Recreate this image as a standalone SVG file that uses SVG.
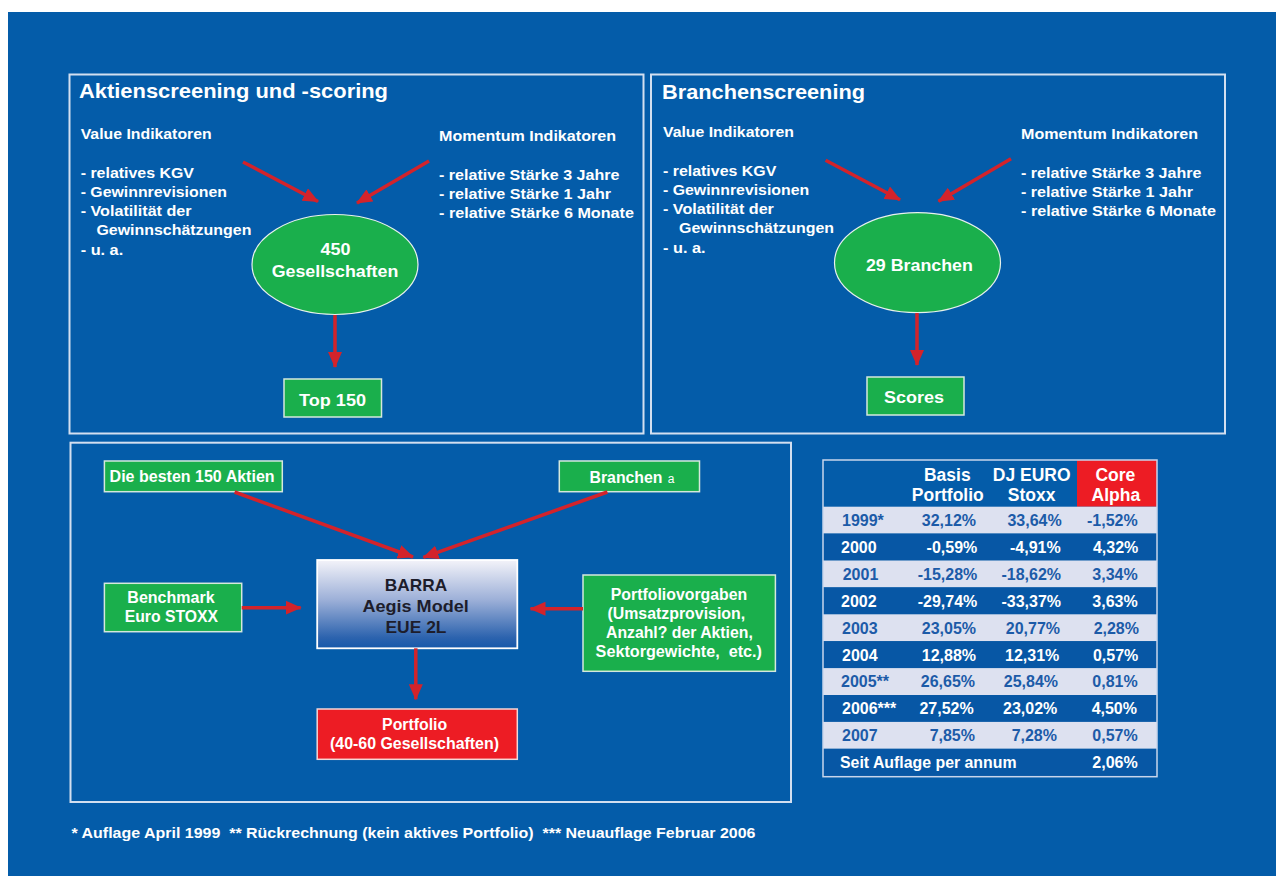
<svg xmlns="http://www.w3.org/2000/svg" width="1276" height="876" viewBox="0 0 1276 876">
<style>
.t{font-family:"Liberation Sans",Arial,Helvetica,sans-serif;font-weight:bold;fill:#ffffff}
.h1{font-size:21px}
.h2{font-size:15.5px}
.l{font-size:15.5px}
.n{font-size:17px}
.b{font-size:16px}
.c{text-anchor:middle}
.e{text-anchor:end}
.dk{fill:#1d1d2b}
.panel{fill:none;stroke:#d3dff0;stroke-width:2}
.gbox{fill:#1aaf4c;stroke:#d5e8dc;stroke-width:1.5}
.rbox{fill:#ed1c24;stroke:#f3d6d6;stroke-width:1.5}
.ell{fill:#1aaf4c;stroke:#e8f2ec;stroke-width:1.2}
.arr{stroke:#d3232b;stroke-width:3.5;fill:none;marker-end:url(#ah)}
.lr{fill:#dde1f0}
.dr{fill:#0757a5}
.tb{font-size:16px;fill:#1c5ba8}
.tw{font-size:16px;fill:#ffffff}
</style>
<defs>
<marker id="ah" viewBox="0 0 16 14" refX="15" refY="7" markerWidth="16" markerHeight="14" markerUnits="userSpaceOnUse" orient="auto">
<path d="M0,0 L16,7 L0,14 z" fill="#d3232b"/>
</marker>
<linearGradient id="barra" x1="0" y1="0" x2="0" y2="1">
<stop offset="0" stop-color="#f3f3f9"/>
<stop offset="0.45" stop-color="#9db0d8"/>
<stop offset="0.88" stop-color="#2c63ae"/>
<stop offset="1" stop-color="#1659aa"/>
</linearGradient>
</defs>
<rect x="0" y="0" width="1276" height="876" fill="#ffffff"/>
<rect x="8" y="12" width="1268" height="864" fill="#045ca9"/>

<g id="panel1">
<rect class="panel" x="69.5" y="74.5" width="574" height="359"/>
<text class="t h1" x="79" y="98.3" textLength="309" lengthAdjust="spacingAndGlyphs">Aktienscreening und -scoring</text>
<text class="t h2" x="80.7" y="139" textLength="131" lengthAdjust="spacingAndGlyphs">Value Indikatoren</text>
<text class="t h2" x="439" y="141" textLength="177" lengthAdjust="spacingAndGlyphs">Momentum Indikatoren</text>
<text class="t l" x="80.7" y="178.3" textLength="113.3" lengthAdjust="spacingAndGlyphs">- relatives KGV</text>
<text class="t l" x="80.7" y="197.3" textLength="146.2" lengthAdjust="spacingAndGlyphs">- Gewinnrevisionen</text>
<text class="t l" x="80.7" y="216.3" textLength="110.9" lengthAdjust="spacingAndGlyphs">- Volatilität der</text>
<text class="t l" x="96.4" y="235.3" textLength="155" lengthAdjust="spacingAndGlyphs">Gewinnschätzungen</text>
<text class="t l" x="80.7" y="255" textLength="42.5" lengthAdjust="spacingAndGlyphs">- u. a.</text>
<text class="t l" x="439" y="180" textLength="180.5" lengthAdjust="spacingAndGlyphs">- relative Stärke 3 Jahre</text>
<text class="t l" x="439" y="199" textLength="172" lengthAdjust="spacingAndGlyphs">- relative Stärke 1 Jahr</text>
<text class="t l" x="439" y="218" textLength="195" lengthAdjust="spacingAndGlyphs">- relative Stärke 6 Monate</text>
</g>
<g id="node450">
<ellipse class="ell" cx="335" cy="264.5" rx="83" ry="50"/>
<text class="t n c" x="335.5" y="255" textLength="30" lengthAdjust="spacingAndGlyphs">450</text>
<text class="t n c" x="335" y="277.3" textLength="126.7" lengthAdjust="spacingAndGlyphs">Gesellschaften</text>
</g>
<g id="top150">
<rect class="gbox" x="284" y="379" width="97.5" height="38"/>
<text class="t n c" x="332.5" y="405.7" textLength="67" lengthAdjust="spacingAndGlyphs">Top 150</text>
</g>

<g id="panel2">
<rect class="panel" x="651" y="74.5" width="574" height="359"/>
<text class="t h1" x="662" y="99.3" textLength="203" lengthAdjust="spacingAndGlyphs">Branchenscreening</text>
<text class="t h2" x="663" y="137.3" textLength="131" lengthAdjust="spacingAndGlyphs">Value Indikatoren</text>
<text class="t h2" x="1021" y="139" textLength="177" lengthAdjust="spacingAndGlyphs">Momentum Indikatoren</text>
<text class="t l" x="663" y="176" textLength="113.3" lengthAdjust="spacingAndGlyphs">- relatives KGV</text>
<text class="t l" x="663" y="195" textLength="146.2" lengthAdjust="spacingAndGlyphs">- Gewinnrevisionen</text>
<text class="t l" x="663" y="214" textLength="110.9" lengthAdjust="spacingAndGlyphs">- Volatilität der</text>
<text class="t l" x="679" y="233" textLength="155" lengthAdjust="spacingAndGlyphs">Gewinnschätzungen</text>
<text class="t l" x="663" y="253.3" textLength="42.5" lengthAdjust="spacingAndGlyphs">- u. a.</text>
<text class="t l" x="1021" y="178" textLength="180.5" lengthAdjust="spacingAndGlyphs">- relative Stärke 3 Jahre</text>
<text class="t l" x="1021" y="197" textLength="172" lengthAdjust="spacingAndGlyphs">- relative Stärke 1 Jahr</text>
<text class="t l" x="1021" y="216" textLength="195" lengthAdjust="spacingAndGlyphs">- relative Stärke 6 Monate</text>
</g>
<g id="node29">
<ellipse class="ell" cx="917.5" cy="262.7" rx="83" ry="50"/>
<text class="t n c" x="919.4" y="271" textLength="107" lengthAdjust="spacingAndGlyphs">29 Branchen</text>
</g>
<g id="scores">
<rect class="gbox" x="867" y="377" width="97" height="38"/>
<text class="t n c" x="914" y="403.3" textLength="60" lengthAdjust="spacingAndGlyphs">Scores</text>
</g>

<g id="panel3">
<rect class="panel" x="70.5" y="442.7" width="720.5" height="359.3"/>
</g>
<g id="besten">
<rect class="gbox" x="104.4" y="461" width="177.9" height="30.7"/>
<text class="t b" x="109.6" y="481.7" textLength="165" lengthAdjust="spacingAndGlyphs">Die besten 150 Aktien</text>
</g>
<g id="branchenA">
<rect class="gbox" x="559.3" y="461" width="140.2" height="30.7"/>
<text class="t b" x="589.5" y="482.7" textLength="73" lengthAdjust="spacingAndGlyphs">Branchen</text>
<text class="t" x="667.8" y="482.7" style="font-size:12px;font-weight:normal">a</text>
</g>
<g id="benchmark">
<rect class="gbox" x="104.4" y="583.3" width="137.3" height="48.4"/>
<text class="t b c" x="171" y="603.3" textLength="87.3" lengthAdjust="spacingAndGlyphs">Benchmark</text>
<text class="t b c" x="171.4" y="622.3" textLength="93.3" lengthAdjust="spacingAndGlyphs">Euro STOXX</text>
</g>
<g id="barra">
<rect x="317.2" y="560" width="200.1" height="88.3" fill="url(#barra)" stroke="#ffffff" stroke-width="1.8"/>
<text class="t n c dk" x="416" y="590.7" textLength="62.3" lengthAdjust="spacingAndGlyphs">BARRA</text>
<text class="t n c dk" x="415.6" y="611.7" textLength="106.2" lengthAdjust="spacingAndGlyphs">Aegis Model</text>
<text class="t n c dk" x="416" y="633.3" textLength="61" lengthAdjust="spacingAndGlyphs">EUE 2L</text>
</g>
<g id="vorgaben">
<rect class="gbox" x="583" y="575" width="192.4" height="96.3"/>
<text class="t b c" x="679" y="600" textLength="136.4" lengthAdjust="spacingAndGlyphs">Portfoliovorgaben</text>
<text class="t b c" x="676.3" y="619" textLength="137.8" lengthAdjust="spacingAndGlyphs">(Umsatzprovision,</text>
<text class="t b c" x="679.4" y="638" textLength="146.8" lengthAdjust="spacingAndGlyphs">Anzahl? der Aktien,</text>
<text class="t b c" x="678.8" y="656.7" textLength="166.4" lengthAdjust="spacingAndGlyphs" xml:space="preserve">Sektorgewichte,  etc.)</text>
</g>
<g id="portfolio">
<rect class="rbox" x="317.2" y="709" width="200.1" height="50.3"/>
<text class="t b c" x="414.6" y="730" textLength="65" lengthAdjust="spacingAndGlyphs">Portfolio</text>
<text class="t b c" x="414.5" y="749" textLength="169" lengthAdjust="spacingAndGlyphs">(40-60 Gesellschaften)</text>
</g>

<g id="connectors">
<line class="arr" x1="243" y1="162" x2="318" y2="201.5"/>
<line class="arr" x1="429" y1="161" x2="357" y2="203"/>
<line class="arr" x1="335" y1="315" x2="335" y2="367"/>
<line class="arr" x1="825.6" y1="160.3" x2="900" y2="199.7"/>
<line class="arr" x1="1011" y1="158.7" x2="938.5" y2="201.3"/>
<line class="arr" x1="917" y1="313" x2="917" y2="365"/>
<line class="arr" x1="234.6" y1="492" x2="413" y2="557"/>
<line class="arr" x1="607.4" y1="492" x2="423.4" y2="557.3"/>
<line class="arr" x1="241.7" y1="607.7" x2="300.7" y2="607.7"/>
<line class="arr" x1="583" y1="608.7" x2="530.5" y2="608.7"/>
<line class="arr" x1="415.8" y1="648.3" x2="415.8" y2="699.3"/>
</g>

<g id="table">
<rect x="1077" y="460" width="80" height="46.7" fill="#ed1c24"/>
<rect class="lr" x="823" y="506.7" width="334" height="26.9"/>
<rect class="dr" x="823" y="533.6" width="334" height="26.9"/>
<rect class="lr" x="823" y="560.5" width="334" height="26.9"/>
<rect class="dr" x="823" y="587.4" width="334" height="26.9"/>
<rect class="lr" x="823" y="614.3" width="334" height="26.9"/>
<rect class="dr" x="823" y="641.2" width="334" height="26.9"/>
<rect class="lr" x="823" y="668.1" width="334" height="26.9"/>
<rect class="dr" x="823" y="695" width="334" height="26.9"/>
<rect class="lr" x="823" y="721.9" width="334" height="26.9"/>
<rect class="dr" x="823" y="748.8" width="334" height="27.9"/>
<rect x="823" y="460" width="334" height="316.7" fill="none" stroke="#c8d5eb" stroke-width="1.5"/>
<g class="t" style="font-size:17.5px">
<text class="c" x="947.3" y="480.7">Basis</text>
<text class="c" x="947.8" y="501">Portfolio</text>
<text class="c" x="1031.7" y="480.7">DJ EURO</text>
<text class="c" x="1031.7" y="501">Stoxx</text>
<text class="c" x="1115.4" y="480.7">Core</text>
<text class="c" x="1115.9" y="501">Alpha</text>
</g>
<g class="t tb">
<text x="842" y="526">1999*</text>
<text class="e" x="976" y="526">32,12%</text>
<text class="e" x="1061.7" y="526">33,64%</text>
<text class="e" x="1137.7" y="526">-1,52%</text>
<text x="842.7" y="579.8">2001</text>
<text class="e" x="977.3" y="579.8">-15,28%</text>
<text class="e" x="1061" y="579.8">-18,62%</text>
<text class="e" x="1137.7" y="579.8">3,34%</text>
<text x="842" y="633.6">2003</text>
<text class="e" x="976" y="633.6">23,05%</text>
<text class="e" x="1060" y="633.6">20,77%</text>
<text class="e" x="1139" y="633.6">2,28%</text>
<text x="841" y="687.4">2005**</text>
<text class="e" x="975" y="687.4">26,65%</text>
<text class="e" x="1058" y="687.4">25,84%</text>
<text class="e" x="1137.7" y="687.4">0,81%</text>
<text x="842" y="741.2">2007</text>
<text class="e" x="975" y="741.2">7,85%</text>
<text class="e" x="1057" y="741.2">7,28%</text>
<text class="e" x="1137.7" y="741.2">0,57%</text>
</g>
<g class="t tw">
<text x="841" y="552.9">2000</text>
<text class="e" x="977.3" y="552.9">-0,59%</text>
<text class="e" x="1060.7" y="552.9">-4,91%</text>
<text class="e" x="1138.3" y="552.9">4,32%</text>
<text x="841" y="606.7">2002</text>
<text class="e" x="977.3" y="606.7">-29,74%</text>
<text class="e" x="1061" y="606.7">-33,37%</text>
<text class="e" x="1137.7" y="606.7">3,63%</text>
<text x="842" y="660.5">2004</text>
<text class="e" x="976" y="660.5">12,88%</text>
<text class="e" x="1059.3" y="660.5">12,31%</text>
<text class="e" x="1138.3" y="660.5">0,57%</text>
<text x="842" y="714.3">2006***</text>
<text class="e" x="973.7" y="714.3">27,52%</text>
<text class="e" x="1057.3" y="714.3">23,02%</text>
<text class="e" x="1137" y="714.3">4,50%</text>
<text x="840" y="768.3" textLength="176.5" lengthAdjust="spacingAndGlyphs">Seit Auflage per annum</text>
<text class="e" x="1137.7" y="768.3">2,06%</text>
</g>
</g>

<g id="footer">
<text class="t" x="71.5" y="837.7" style="font-size:14.5px" textLength="684" lengthAdjust="spacingAndGlyphs" xml:space="preserve">* Auflage April 1999  ** Rückrechnung (kein aktives Portfolio)  *** Neuauflage Februar 2006</text>
</g>
</svg>
